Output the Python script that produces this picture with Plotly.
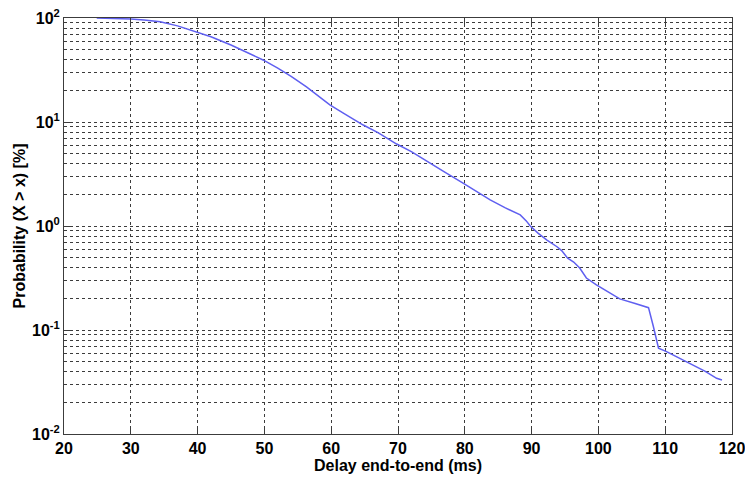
import plotly.graph_objects as go

delay_ms = [24.9, 27, 30, 32, 34.4, 37, 39.9, 42, 45, 47.5, 49.8, 52, 54, 56.3, 58, 59.8, 62, 64.8, 67,
            69.8, 72, 75, 77, 79.8, 82, 83.8, 86, 88.3, 89.2, 89.8, 91, 92.3, 93.8, 94.5, 95.4, 96.3,
            97.2, 98.2, 99.7, 101.5, 103.2, 105.5, 107.5, 108.2, 109.0, 110.2, 112, 114, 116, 117.7, 118.5]
prob_pct = [100, 99.5, 97.8, 95.5, 92.2, 84, 73, 66, 55, 46, 39.5, 33, 27.5, 21.8, 18, 14.6, 12, 9.35, 7.9,
            6.14, 5.2, 4.0, 3.3, 2.57, 2.1, 1.78, 1.5, 1.28, 1.12, 1.0, 0.85, 0.733, 0.632, 0.58, 0.49, 0.45,
            0.394, 0.316, 0.271, 0.23, 0.199, 0.18, 0.164, 0.11, 0.0667, 0.062, 0.054, 0.046, 0.040, 0.0343, 0.033]

x_ticks = [20, 30, 40, 50, 60, 70, 80, 90, 100, 110, 120]
y_ticks = [0.01, 0.1, 1, 10, 100]
y_ticktext = ["10<sup>-2</sup>", "10<sup>-1</sup>", "10<sup>0</sup>", "10<sup>1</sup>", "10<sup>2</sup>"]
y_minor = [m * d for d in [0.01, 0.1, 1, 10] for m in range(2, 10)]

fig = go.Figure()
fig.add_trace(go.Scatter(x=delay_ms, y=prob_pct, mode="lines",
                         line=dict(color="rgb(95,95,240)", width=1.5), showlegend=False))

fnt = dict(family="Liberation Sans, Arial, sans-serif", size=16, color="black")
fig.update_layout(
    width=745, height=481,
    margin=dict(l=64, r=13, t=18, b=47, autoexpand=False),
    paper_bgcolor="white", plot_bgcolor="white",
    font=fnt,
    xaxis=dict(range=[20, 120], tickmode="array", tickvals=x_ticks,
               ticktext=[f"<b>{v}</b>" for v in x_ticks],
               tickfont=dict(size=16), automargin=False, ticklabeloverflow="allow",
               showgrid=True, gridcolor="rgb(60,60,60)", griddash="dot", gridwidth=1,
               ticks="inside", ticklen=6, tickcolor="rgb(60,60,60)",
               showline=True, linecolor="rgb(60,60,60)", linewidth=1, mirror="ticks",
               zeroline=False,
               title=dict(text="<b>Delay end-to-end (ms)</b>", font=dict(size=16), standoff=3)),
    yaxis=dict(type="log", range=[-2, 2], tickmode="array", tickvals=y_ticks,
               ticktext=[f"<b>{t}</b>" for t in y_ticktext],
               tickfont=dict(size=16), automargin=False, ticklabeloverflow="allow",
               showgrid=True, gridcolor="rgb(60,60,60)", griddash="dot", gridwidth=1,
               ticks="inside", ticklen=6, tickcolor="rgb(60,60,60)",
               showline=True, linecolor="rgb(60,60,60)", linewidth=1, mirror="ticks",
               zeroline=False,
               minor=dict(tickmode="array", tickvals=y_minor, ticks="inside", ticklen=3,
                          tickcolor="rgb(60,60,60)", showgrid=True,
                          gridcolor="rgb(60,60,60)", griddash="dot", gridwidth=1),
               title=dict(text="<b>Probability (X > x) [%]</b>", font=dict(size=16), standoff=2)),
)

fig.write_html("out.html")
